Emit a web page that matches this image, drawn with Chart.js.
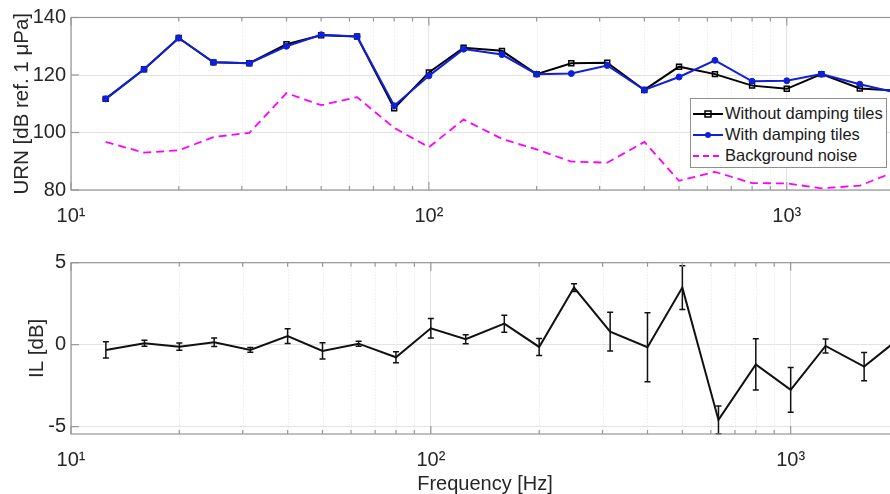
<!DOCTYPE html>
<html>
<head>
<meta charset="utf-8">
<script src="https://cdn.jsdelivr.net/npm/chart.js@4.4.1/dist/chart.umd.min.js"></script>
<style>
  html, body { margin: 0; padding: 0; background: #fff; overflow: hidden; width: 890px; height: 494px; }
  canvas { position: absolute; left: 0; }
  #top { top: 0; }
  #bottom { top: 240px; }
  #legend {
    position: absolute; left: 690px; top: 98px; width: 195px; height: 68px;
    border: 1px solid #8f8f8f; background: #fff;
    font-family: "Liberation Sans", Arial, sans-serif; font-size: 16.5px; color: #1a1a1a;
  }
  #legend .row { position: absolute; left: 1px; height: 22px; line-height: 22px; white-space: nowrap; }
  #legend svg { vertical-align: middle; margin-right: 1px; position: relative; top: -1px; }
</style>
</head>
<body>
<canvas id="top" width="900" height="240"></canvas>
<canvas id="bottom" width="900" height="254"></canvas>
<div id="legend">
  <div class="row" style="top:3px"><svg width="32" height="12"><line x1="1" y1="6" x2="31" y2="6" stroke="#000" stroke-width="2"/><rect x="13" y="3" width="6" height="6" fill="none" stroke="#000" stroke-width="1.5"/></svg>Without damping tiles</div>
  <div class="row" style="top:24px"><svg width="32" height="12"><line x1="1" y1="6" x2="31" y2="6" stroke="#1020d8" stroke-width="2"/><circle cx="16" cy="6" r="3" fill="#1020d8"/></svg>With damping tiles</div>
  <div class="row" style="top:45px"><svg width="32" height="12"><line x1="1" y1="6" x2="31" y2="6" stroke="#ff00ff" stroke-width="2" stroke-dasharray="6,4"/></svg>Background noise</div>
</div>
<script>
// 1/3-octave band centre frequencies [Hz]
const freqs = [12.5, 16, 20, 25, 31.5, 40, 50, 63, 80, 100, 125, 160, 200, 250, 315, 400, 500, 630, 800, 1000, 1250, 1600, 2000];

// URN [dB ref. 1 uPa]
const withoutTiles = [111.7, 122.0, 132.9, 124.4, 124.1, 130.7, 133.8, 133.4, 108.4, 120.9, 129.5, 128.4, 120.3, 124.1, 124.3, 114.8, 122.9, 120.3, 116.3, 115.2, 120.3, 115.3, 114.6];
const withTiles = [111.7, 122.0, 132.9, 124.4, 124.1, 130.0, 134.0, 133.4, 109.3, 119.7, 129.0, 127.1, 120.3, 120.5, 123.3, 114.8, 119.3, 125.1, 117.8, 118.0, 120.3, 116.8, 114.0];
const background = [96.7, 93.0, 93.8, 98.4, 99.9, 113.7, 109.5, 112.3, 101.6, 94.9, 104.5, 97.8, 94.1, 89.9, 89.5, 96.7, 83.2, 86.3, 82.4, 82.3, 80.6, 81.5, 86.3];

// insertion loss [dB] and its spread
const il = [-0.32, 0.09, -0.12, 0.15, -0.32, 0.52, -0.38, 0.06, -0.77, 1.0, 0.33, 1.28, -0.14, 3.48, 0.79, -0.16, 3.48, -4.59, -1.2, -2.76, -0.08, -1.34, 0.37];
const ilErr = [0.5, 0.18, 0.22, 0.26, 0.15, 0.45, 0.5, 0.15, 0.33, 0.59, 0.28, 0.52, 0.52, 0.23, 1.18, 2.1, 1.34, 0.85, 1.56, 1.37, 0.43, 0.86, 0.5];

// ticks
const xMajor = [10, 100, 1000];
const xMinor = [20, 30, 40, 50, 60, 70, 80, 90, 200, 300, 400, 500, 600, 700, 800, 900];
const xLabels = { 10: '10\u00b9', 100: '10\u00b2', 1000: '10\u00b3' };
const urnTicks = [80, 100, 120, 140];
const ilTicks = [-5, 0, 5];

const FONT = '"Liberation Sans", Arial, sans-serif';
const TEXT = '#262626';
const GRID = '#e3e3e3';
const AXIS = '#979797';

const pts = ys => freqs.map((f, i) => ({ x: f, y: ys[i] }));

// minor grid, axis box and inward ticks like the original
const frame = {
  id: 'frame',
  beforeDatasetsDraw(chart) {
    const { ctx, chartArea: a, scales: { x } } = chart;
    ctx.save();
    ctx.strokeStyle = '#e6e6e6';
    ctx.lineWidth = 1;
    ctx.setLineDash([1, 2]);
    xMinor.forEach(v => {
      const px = Math.round(x.getPixelForValue(v)) + 0.5;
      ctx.beginPath(); ctx.moveTo(px, a.top); ctx.lineTo(px, a.bottom); ctx.stroke();
    });
    ctx.restore();
  },
  afterDraw(chart) {
    const { ctx, chartArea: a, scales: { x, y } } = chart;
    ctx.save();
    ctx.strokeStyle = AXIS;
    ctx.lineWidth = 1.2;
    const tick = (x1, y1, x2, y2) => { ctx.beginPath(); ctx.moveTo(x1, y1); ctx.lineTo(x2, y2); ctx.stroke(); };
    xMajor.forEach(v => {
      const px = x.getPixelForValue(v);
      tick(px, a.bottom, px, a.bottom - 8);
      tick(px, a.top, px, a.top + 8);
    });
    xMinor.forEach(v => {
      const px = x.getPixelForValue(v);
      tick(px, a.bottom, px, a.bottom - 4);
      tick(px, a.top, px, a.top + 4);
    });
    y.ticks.forEach(t => {
      const py = y.getPixelForValue(t.value);
      tick(a.left, py, a.left + 8, py);
    });
    ctx.strokeRect(a.left, a.top, a.right - a.left, a.bottom - a.top);
    ctx.restore();
  }
};

// error bars for the IL plot
const errorBars = {
  id: 'errorBars',
  afterDatasetsDraw(chart) {
    const { ctx, scales: { x, y } } = chart;
    ctx.save();
    ctx.strokeStyle = '#111';
    ctx.lineWidth = 1.5;
    freqs.forEach((f, i) => {
      const px = x.getPixelForValue(f);
      const hi = y.getPixelForValue(il[i] + ilErr[i]);
      const lo = y.getPixelForValue(il[i] - ilErr[i]);
      ctx.beginPath();
      ctx.moveTo(px, hi); ctx.lineTo(px, lo);
      ctx.moveTo(px - 3, hi); ctx.lineTo(px + 3, hi);
      ctx.moveTo(px - 3, lo); ctx.lineTo(px + 3, lo);
      ctx.stroke();
    });
    ctx.restore();
  }
};

function xScale(height, titleText) {
  return {
    type: 'logarithmic',
    min: 10,
    max: 2000,
    afterBuildTicks: s => { s.ticks = xMajor.map(v => ({ value: v })); },
    afterFit: s => { s.height = height; },
    ticks: {
      autoSkip: false, maxRotation: 0, padding: 14,
      color: TEXT, font: { family: FONT, size: 20 },
      callback: v => xLabels[v] || ''
    },
    grid: { color: GRID, drawTicks: false },
    border: { display: false },
    title: titleText ? {
      display: true, text: titleText, color: TEXT,
      font: { family: FONT, size: 20, lineHeight: 1 }, padding: { top: 0, bottom: 0 }
    } : { display: false }
  };
}

function yScale(min, max, ticks, titleText, titlePad) {
  return {
    min: min,
    max: max,
    afterBuildTicks: s => { s.ticks = ticks.map(v => ({ value: v })); },
    afterFit: s => { s.width = 71; },
    ticks: { color: TEXT, font: { family: FONT, size: 20 }, padding: 5 },
    grid: { color: GRID, drawTicks: false },
    border: { display: false },
    title: {
      display: true, text: titleText, color: TEXT,
      font: { family: FONT, size: 20.5, lineHeight: 1.2 }, padding: { top: titlePad }
    }
  };
}

const common = {
  responsive: false,
  animation: false,
  devicePixelRatio: 1,
  plugins: { legend: { display: false }, tooltip: { enabled: false } }
};

new Chart(document.getElementById('top').getContext('2d'), {
  type: 'line',
  data: {
    datasets: [
      {
        label: 'Without damping tiles', data: pts(withoutTiles), order: 2,
        borderColor: '#000', borderWidth: 2, pointStyle: 'rect', pointRadius: 3.5,
        pointBorderColor: '#000', pointBackgroundColor: 'rgba(0,0,0,0)', pointBorderWidth: 1.5
      },
      {
        label: 'With damping tiles', data: pts(withTiles), order: 1,
        borderColor: '#1020d8', borderWidth: 2, pointStyle: 'circle', pointRadius: 3,
        pointBorderColor: '#1020d8', pointBackgroundColor: '#1020d8', pointBorderWidth: 1
      },
      {
        label: 'Background noise', data: pts(background), order: 3,
        borderColor: '#ff00ff', borderWidth: 1.8, borderDash: [8, 5], pointRadius: 0
      }
    ]
  },
  options: Object.assign({}, common, {
    layout: { padding: { top: 17.5, right: 1, left: 0, bottom: 0 } },
    scales: {
      x: xScale(50, null),
      y: yScale(80, 140, urnTicks, 'URN [dB ref. 1 \u03bcPa]', 10)
    }
  }),
  plugins: [frame]
});

new Chart(document.getElementById('bottom').getContext('2d'), {
  type: 'line',
  data: {
    datasets: [{
      label: 'IL', data: pts(il),
      borderColor: '#111', borderWidth: 2, pointRadius: 0
    }]
  },
  options: Object.assign({}, common, {
    layout: { padding: { top: 22.7, right: 1, left: 0, bottom: 0 } },
    scales: {
      x: xScale(60, 'Frequency [Hz]'),
      y: yScale(-5.45, 5, ilTicks, 'IL [dB]', 25)
    }
  }),
  plugins: [frame, errorBars]
});
</script>
</body>
</html>
